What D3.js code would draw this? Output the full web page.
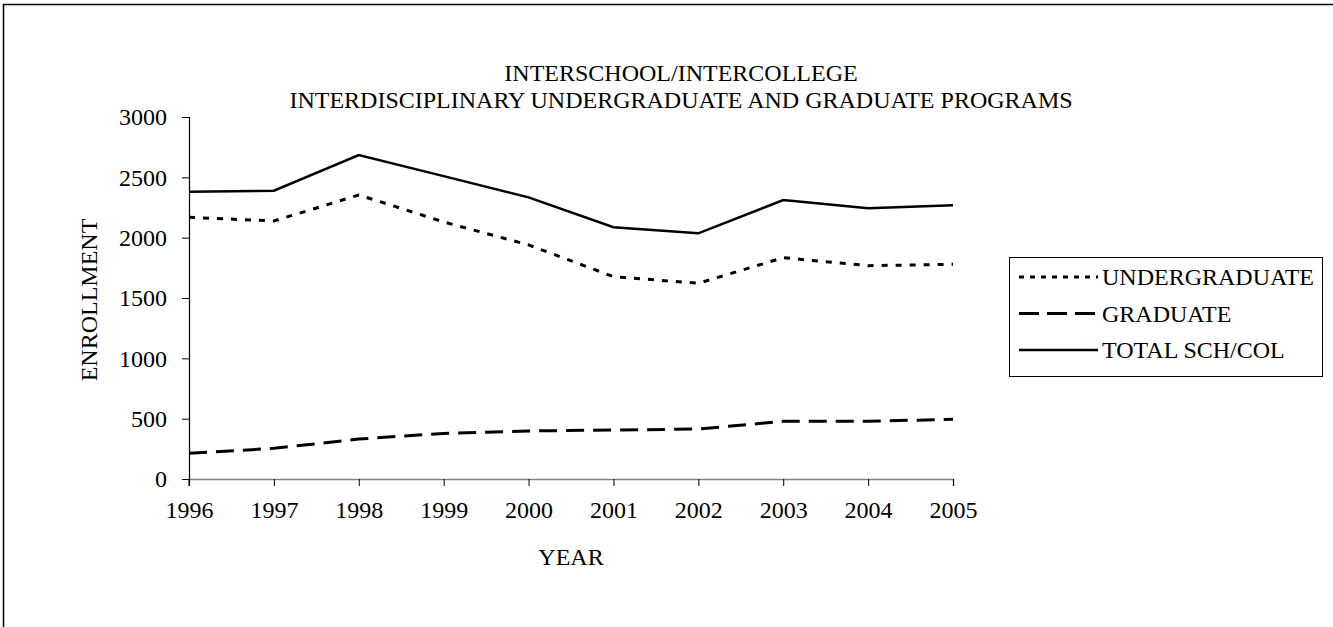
<!DOCTYPE html>
<html>
  <head>
    <meta charset="utf-8" />
    <title>Interschool/Intercollege enrollment</title>
    <script src="https://d3js.org/d3.v7.min.js"></script>
    <style>
      body {
        margin: 0;
        background: #fff;
      }
      svg text {
        font-family: "Liberation Serif", "Times New Roman", serif;
        fill: #000;
      }
      .series {
        fill: none;
        stroke: #000;
      }
    </style>
  </head>
  <body>
    <svg width="1333" height="627"></svg>
    <script>
      // data
      const years = [1996, 1997, 1998, 1999, 2000, 2001, 2002, 2003, 2004, 2005];
      const undergraduate = [2169, 2138, 2354, 2130, 1940, 1677, 1622, 1834, 1768, 1779];
      const graduate = [213, 254, 331, 378, 398, 406, 414, 478, 478, 495];
      const totalSchCol = [2381, 2389, 2685, 2510, 2334, 2086, 2036, 2312, 2243, 2268];
      const yTicks = [0, 500, 1000, 1500, 2000, 2500, 3000];
      const titleLines = [
        "INTERSCHOOL/INTERCOLLEGE",
        "INTERDISCIPLINARY UNDERGRADUATE AND GRADUATE PROGRAMS",
      ];

      const series = [
        { name: "UNDERGRADUATE", values: undergraduate, dash: "6,8", legendDash: "5,6", width: 3 },
        { name: "GRADUATE", values: graduate, dash: "18,9", legendDash: "20,8", width: 3 },
        { name: "TOTAL SCH/COL", values: totalSchCol, dash: null, legendDash: null, width: 2.5 },
      ];

      const svg = d3.select("svg");
      const fontSize = 24;
      const serif = '"Liberation Serif", "Times New Roman", serif';

      // outer chart frame (runs past the window on right/bottom)
      svg
        .append("rect")
        .attr("x", 3.5)
        .attr("y", 4.5)
        .attr("width", 1400)
        .attr("height", 700)
        .attr("fill", "none")
        .attr("stroke", "#000")
        .attr("stroke-width", 1.5);

      const x = d3.scaleLinear().domain([1996, 2005]).range([189, 953]);
      const y = d3.scaleLinear().domain([0, 3000]).range([479, 117]);

      // title
      svg
        .append("g")
        .selectAll("text")
        .data(titleLines)
        .enter()
        .append("text")
        .attr("x", 681)
        .attr("y", (d, i) => 81 + i * 27)
        .attr("text-anchor", "middle")
        .style("font-size", fontSize + "px")
        .text((d) => d);

      // x axis
      const xAxis = svg
        .append("g")
        .attr("transform", `translate(0,${y(0)})`)
        .call(
          d3
            .axisBottom(x)
            .tickValues(years)
            .tickFormat(d3.format("d"))
            .tickSizeOuter(0)
            .tickSize(7)
            .tickPadding(15)
        );
      xAxis.select(".domain").attr("stroke", "#808080").attr("stroke-width", 1.5);
      xAxis.selectAll(".tick line").attr("stroke", "#000");
      xAxis
        .selectAll(".tick text")
        .style("font-size", fontSize + "px")
        .style("font-family", serif);

      // y axis
      const yAxis = svg
        .append("g")
        .attr("transform", `translate(${x(1996)},0)`)
        .call(
          d3
            .axisLeft(y)
            .tickValues(yTicks)
            .tickFormat(d3.format("d"))
            .tickSizeOuter(0)
            .tickSize(7)
            .tickPadding(15)
        );
      yAxis.select(".domain").attr("stroke", "#000").attr("stroke-width", 1.2);
      yAxis.selectAll(".tick line").attr("stroke", "#000");
      yAxis
        .selectAll(".tick text")
        .style("font-size", fontSize + "px")
        .style("font-family", serif);

      // the y axis line also drops below the x axis like a tick
      svg
        .append("line")
        .attr("x1", x(1996))
        .attr("x2", x(1996))
        .attr("y1", y(0))
        .attr("y2", y(0) + 7)
        .attr("stroke", "#000");

      // axis titles
      svg
        .append("text")
        .attr("x", (x(1996) + x(2005)) / 2)
        .attr("y", 565)
        .attr("text-anchor", "middle")
        .style("font-size", fontSize + "px")
        .text("YEAR");

      svg
        .append("text")
        .attr("transform", "translate(97,300) rotate(-90)")
        .attr("text-anchor", "middle")
        .style("font-size", fontSize + "px")
        .text("ENROLLMENT");

      // lines
      const line = d3
        .line()
        .x((d, i) => x(years[i]))
        .y((d) => y(d));

      svg
        .selectAll(".series")
        .data(series)
        .enter()
        .append("path")
        .attr("class", "series")
        .attr("d", (d) => line(d.values))
        .attr("stroke-width", (d) => d.width)
        .attr("stroke-dasharray", (d) => d.dash);

      // legend
      const legend = svg.append("g");
      legend
        .append("rect")
        .attr("x", 1009.5)
        .attr("y", 257.5)
        .attr("width", 313)
        .attr("height", 119)
        .attr("fill", "#fff")
        .attr("stroke", "#000")
        .attr("stroke-width", 1);

      const rows = legend
        .selectAll(".row")
        .data(series)
        .enter()
        .append("g")
        .attr("class", "row")
        .attr("transform", (d, i) => `translate(0,${277 + i * 36.5})`);

      rows
        .append("line")
        .attr("x1", 1019)
        .attr("x2", 1098)
        .attr("stroke", "#000")
        .attr("stroke-width", (d) => d.width)
        .attr("stroke-dasharray", (d) => d.legendDash);

      rows
        .append("text")
        .attr("x", 1102)
        .attr("dy", "0.35em")
        .style("font-size", fontSize + "px")
        .text((d) => d.name);
    </script>
  </body>
</html>
